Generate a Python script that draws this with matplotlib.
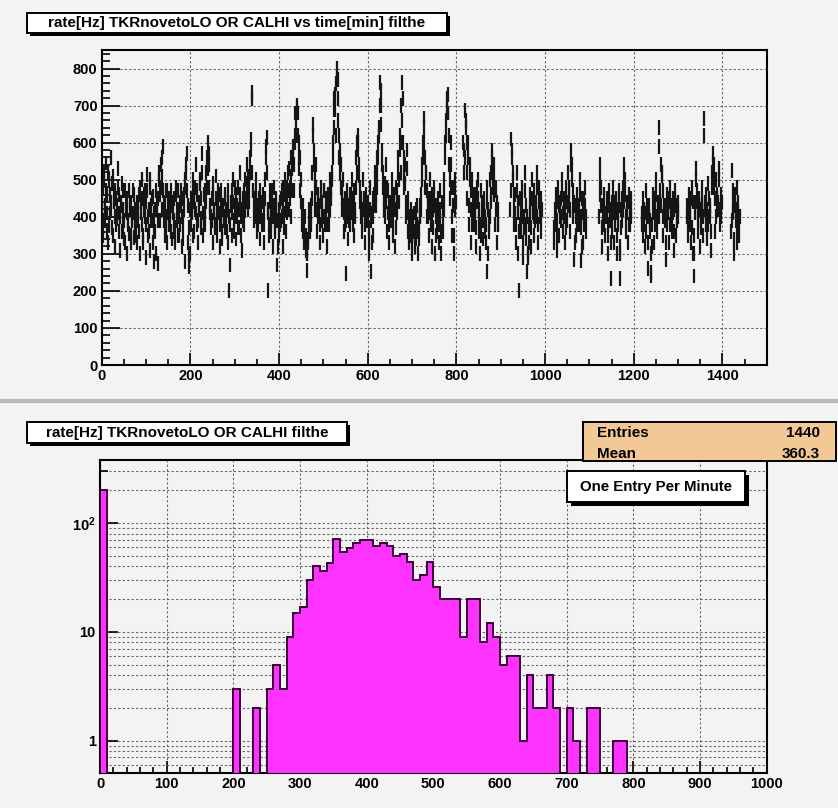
import numpy as np
import matplotlib
matplotlib.use('Agg')
import matplotlib.pyplot as plt
from matplotlib.patches import Rectangle
from matplotlib.lines import Line2D
from matplotlib.ticker import MultipleLocator, FixedLocator, FixedFormatter, NullFormatter

plt.rcParams['font.family'] = ['Liberation Sans', 'DejaVu Sans']
plt.rcParams['font.weight'] = 'bold'
plt.rcParams['mathtext.fontset'] = 'custom'
plt.rcParams['mathtext.rm'] = 'Liberation Sans:bold'
plt.rcParams['mathtext.default'] = 'rm'

# ---------------- data ----------------
N = None
# rates at even minutes (t = 0, 2, 4, ...), 20 values (40 min) per row
rate_even_rows = [
    [420, 480, 350, 520, 390, 545, 460, 330, 500, 410, 560, 440, 370, 510, 470, 320, 450, 395, 530, 360],
    [460, 310, 430, 490, 380, 340, 470, 420, 300, 450, 390, 355, 440, 330, 400, 470, 345, 380, 420, 360],
    [330, 410, 460, 300, 440, 380, 500, 350, 420, 470, 290, 515, 400, 360, 480, 310, 430, 390, 455, 280],
    [360, 470, 420, 275, 450, 520, 390, 480, 560, 590, 430, 350, 470, 400, 330, 450, 380, 420, 470, 340],
    [410, 360, 450, 330, 480, 390, 420, 350, 440, 470, 320, 400, 380, 460, 280, 520, 570, 430, 265, 370],
    [300, 450, 410, 500, 360, 420, 540, 380, 470, 330, 440, 490, 395, 570, 350, 460, 420, 380, 520, 480],
    [600, 540, 410, 370, 450, 330, 490, 420, 380, 510, 350, 440, 460, 320, 400, 470, 340, 430, 390, 450],
    [380, 420, 470, 330, 200, 270, 440, 350, 500, 390, 430, 460, 340, 410, 480, 370, 520, 400, 310, 450],
    [430, 380, 500, 450, 540, 420, 480, 560, 610, 735, 520, 470, 390, 440, 500, 360, 430, 410, 470, 340],
    [420, 380, 460, 330, 450, 560, 615, 200, 410, 350, 470, 390, 440, 320, 480, 360, 400, 430, 270, 390],
    [350, 440, 390, 470, 320, 480, 410, 500, 360, 450, 520, 420, 480, 560, 400, 530, 590, 470, 620, 650],
    [700, 680, 560, 600, 470, 500, 380, 430, 330, 400, 310, 256, 300, 340, 420, 360, 380, 450, 650, 580],
    [500, 420, 540, 360, 460, 410, 330, 480, 390, 440, 350, 470, 400, 430, 320, 460, 380, 500, 420, 470],
    [520, 600, 690, 730, 620, 800, 770, 660, 560, 580, 480, 420, 500, 360, 450, 247, 390, 470, 340, 430],
    [380, 460, 500, 410, 350, 470, 420, 560, 600, 620, 540, 480, 400, 450, 360, 500, 420, 330, 460, 390],
    [440, 300, 370, 480, 252, 410, 350, 460, 520, 430, 560, 480, 600, 640, 763, 700, 580, 520, 450, 490],
    [400, 540, 360, 470, 330, 440, 390, 500, 350, 420, 460, 320, 480, 410, 560, 440, 620, 520, 700, 763],
    [600, 480, 540, 400, 580, 360, 450, 330, 390, 420, 300, 360, 410, 320, 380, 340, 430, 300, 370, 400],
    [420, 500, 560, 665, 600, 480, 520, 400, 450, 350, 500, 380, 460, 320, 420, 480, 300, 400, 360, 450],
    [330, 470, 390, 300, 440, 360, 500, 560, 620, 700, 730, 680, 540, 450, 600, 350, 480, 300, 420, 500],
    [N] * 8 + [600, 520, 686, 640, 450, 600, 380, 540, 470, 330, 500, 420],
    [380, 460, 320, 440, 500, 360, 420, 300, 470, 390, 340, 450, 400, 330, 480, 252, 420, 360, 500, 440],
    [580, 520, 460, 540, 380, 480, 330, 420] + [N] * 12,
    [N, 420, 610, 560, 500, 380, 460, 330, 520, 410, 300, 200, 450, 360, 480, 290, 400, 520, 340, 430],
    [252, 290, 380, 460, 320, 500, 410, 350, 470, 390, 440, 520, 330, 480, 400, 360, 450, N, N, N],
    [N] * 10 + [330, 420, 460, 310, 390, 480, 350, 440, 400, 500],
    [360, 450, 410, 330, 480, 390, 520, 440, 360, 580, 540, 470, 400, 285, 430, 350, 460, 380, 420, 500],
    [370, 283, 450, 330, 420, 480, 360] + [N] * 13,
    [N, 400, 540, 480, 320, 430, 380, 460, 350, 410, 420, 300, 470, 390, 233, 440, 360, 480, 330, 410],
    [450, 300, 380, 470, 233, 320, 420, 390, 480, 540, 500, 360, 440, 410, 330, 460, 380, 420, N, N],
    [N] * 9 + [410, 350, 450, 380, 320, 470, 400, 260, 430, 360, 240],
    [250, 380, 460, 330, 420, 500, 360, 440, 640, 400, 470, 540, 510, 350, 430, 390, 285, 460, 380, 420],
    [330, 480, 400, 360, 450, 310, 420, 470, 350, 400, 440] + [N] * 9,
    [400, 350, 460, 380, 420, 330, 480, 300, 240, 440, 530, 470, 360, 410, 450, 320, 390, 480, 350, 665],
    [420, 380, 460, 340, 490, 400, 430, 310, 520, 570, 540, 480, 360, 500, 450, 420, 530, 380, 460, 400],
    [N] * 10 + [360, 525, 430, 300, 460, 390, 330, 480, 410, 350],
]
# rates at odd minutes (t = 1, 3, 5, ...), 20 values per row
rate_odd_rows = [
    [450, 390, 500, 430, 470, 360, 410, 520, 380, 460, 420, 490, 350, 440, 400, 470, 380, 430, 480, 410],
    [400, 440, 360, 420, 470, 390, 330, 450, 410, 380, 470, 420, 350, 440, 390, 410, 460, 350, 400, 440],
    [390, 440, 360, 480, 410, 450, 330, 460, 400, 380, 440, 470, 350, 420, 500, 390, 450, 330, 410, 370],
    [420, 300, 440, 390, 500, 460, 540, 420, 510, 470, 390, 440, 360, 470, 410, 380, 450, 400, 360, 430],
    [440, 390, 370, 460, 420, 350, 470, 400, 380, 430, 450, 340, 420, 480, 500, 540, 470, 330, 300, 420],
    [380, 430, 470, 350, 440, 480, 410, 460, 390, 420, 500, 370, 450, 520, 410, 380, 470, 440, 560, 530],
    [570, 480, 430, 400, 390, 460, 410, 370, 450, 420, 390, 470, 410, 380, 440, 360, 420, 400, 460, 370],
    [420, 360, 440, 400, 380, 430, 470, 410, 440, 360, 480, 400, 430, 370, 420, 460, 440, 350, 420, 390],
    [470, 420, 440, 490, 460, 510, 440, 520, 580, 720, 470, 430, 450, 400, 460, 420, 380, 450, 400, 440],
    [390, 440, 410, 380, 500, 590, 520, 420, 380, 440, 410, 360, 470, 400, 430, 370, 450, 390, 320, 420],
    [410, 380, 450, 400, 440, 370, 460, 420, 480, 410, 470, 530, 450, 510, 470, 560, 540, 600, 680, 620],
    [690, 620, 530, 560, 440, 420, 400, 360, 370, 330, 350, 300, 330, 380, 390, 400, 430, 520, 620, 540],
    [460, 480, 420, 450, 400, 430, 380, 440, 420, 400, 470, 380, 450, 410, 380, 430, 420, 460, 450, 500],
    [560, 640, 720, 690, 760, 780, 720, 620, 520, 540, 450, 470, 430, 410, 380, 420, 440, 400, 390, 460],
    [420, 410, 450, 380, 430, 400, 480, 520, 580, 600, 510, 440, 430, 400, 420, 450, 380, 380, 420, 430],
    [410, 340, 420, 390, 330, 450, 400, 430, 480, 460, 520, 560, 620, 700, 740, 650, 540, 480, 420, 450],
    [440, 480, 410, 430, 380, 400, 420, 460, 390, 450, 420, 370, 440, 470, 520, 500, 580, 600, 660, 720],
    [560, 520, 490, 440, 530, 410, 400, 370, 350, 380, 340, 400, 360, 350, 420, 380, 360, 340, 400, 430],
    [460, 540, 600, 640, 560, 520, 470, 440, 400, 410, 450, 420, 400, 370, 460, 430, 350, 430, 400, 410],
    [380, 420, 350, 360, 400, 420, 460, 600, 660, 720, 680, 620, 500, 480, 540, 400, 430, 350, 460, 440],
    [N] * 8 + [580, 560, 660, 600, 520, 560, 430, 500, 420, 380, 460, 400],
    [420, 410, 370, 480, 450, 400, 380, 350, 430, 440, 390, 420, 360, 380, 440, 300, 380, 400, 460, 520],
    [560, 480, 500, 470, 420, 440, 380, 380] + [N] * 12,
    [N, 470, 580, 520, 460, 420, 410, 380, 470, 440, 360, 380, 410, 400, 440, 330, 370, 470, 380, 400],
    [300, 330, 420, 410, 370, 450, 440, 400, 430, 420, 400, 480, 380, 440, 430, 400, 420, N, N, N],
    [N] * 10 + [370, 380, 420, 350, 440, 430, 400, 390, 450, 460],
    [410, 400, 450, 370, 440, 430, 470, 480, 420, 540, 500, 430, 440, 330, 400, 390, 420, 430, 380, 460],
    [400, 320, 410, 380, 450, 430, 400] + [N] * 13,
    [N, 460, 500, 430, 370, 390, 420, 410, 400, 450, 380, 350, 430, 420, 330, 400, 410, 440, 380, 450],
    [410, 350, 420, 430, 300, 370, 450, 420, 440, 500, 460, 400, 410, 440, 380, 420, 400, 450, N, N],
    [N] * 9 + [380, 400, 420, 410, 360, 430, 420, 330, 400, 390, 300],
    [320, 420, 410, 380, 450, 460, 400, 410, 590, 440, 430, 520, 470, 400, 410, 430, 330, 420, 410, 450],
    [380, 440, 430, 400, 410, 360, 450, 430, 390, 420, 400] + [N] * 9,
    [430, 390, 420, 410, 450, 370, 440, 350, 300, 410, 500, 440, 400, 430, 420, 370, 430, 440, 400, 620],
    [440, 410, 420, 380, 450, 420, 400, 360, 480, 540, 500, 450, 400, 460, 420, 440, 500, 420, 430, 440],
    [N] * 10 + [390, 470, 410, 340, 430, 420, 370, 440, 390, 400],
]
rate_err_hz = 20

hist_bin_width = 10
hist_counts = (
    [200] + [0] * 19 +                                   # 0 - 200
    [3, 0, 0, 2, 0, 3, 5, 3, 9, 15] +                    # 200 - 300
    [17, 30, 40, 36, 43, 72, 54, 59, 66, 70] +           # 300 - 400
    [70, 61, 66, 61, 50, 52, 44, 30, 33, 44] +           # 400 - 500
    [26, 20, 20, 20, 9, 20, 20, 8, 12, 9] +              # 500 - 600
    [5, 6, 6, 1, 4, 2, 2, 4, 2, 0] +                     # 600 - 700
    [2, 1, 0, 2, 2, 0, 0, 1, 1, 0] +                     # 700 - 800
    [0] * 20                                             # 800 - 1000
)
stats_entries = "1440"
stats_mean = "360.3"

title_top = "rate[Hz] TKRnovetoLO OR CALHI vs time[min] filthe"
title_bottom = "rate[Hz] TKRnovetoLO OR CALHI filthe"
legend_text = "One Entry Per Minute"

# ---------------- figure ----------------
W, H = 838, 808
BG = '#f3f3f3'
fig = plt.figure(figsize=(W / 100, H / 100), dpi=100, facecolor=BG)


def fx(x):
    return x / W


def fy(y):
    return 1 - y / H


def pave(x0, y0, x1, y1, fc, shadow=3, lw=1.4, z=5):
    if shadow:
        fig.add_artist(Rectangle((fx(x0 + shadow), fy(y1 + shadow)), (x1 - x0) / W, (y1 - y0) / H,
                                 transform=fig.transFigure, fc='black', ec='none', zorder=z))
    fig.add_artist(Rectangle((fx(x0), fy(y1)), (x1 - x0) / W, (y1 - y0) / H,
                             transform=fig.transFigure, fc=fc, ec='black', lw=lw, zorder=z + 0.1))


# separator between pads
fig.add_artist(Line2D([0, 1], [fy(401), fy(401)], transform=fig.transFigure, color='#b8b8b8', lw=3, zorder=1))

# ---- top panel ----
rate_even = np.array([np.nan if v is None else v for row in rate_even_rows for v in row], dtype=float)
rate_odd = np.array([np.nan if v is None else v for row in rate_odd_rows for v in row], dtype=float)
t_even = np.arange(len(rate_even)) * 2
t_odd = np.arange(len(rate_odd)) * 2 + 1

ax1 = fig.add_axes([fx(101.7), fy(365), (766.7 - 101.7) / W, (365 - 50) / H])
ax1.set_facecolor(BG)
ax1.set_xlim(0, 1500)
ax1.set_ylim(0, 850)
for tt, rr in ((t_even, rate_even), (t_odd, rate_odd)):
    ax1.errorbar(tt, rr, yerr=rate_err_hz, xerr=1.0, fmt='none', ecolor='#151515',
                 elinewidth=1.6, capsize=0, zorder=3)
ax1.xaxis.set_major_locator(MultipleLocator(200))
ax1.xaxis.set_minor_locator(MultipleLocator(50))
ax1.yaxis.set_major_locator(MultipleLocator(100))
ax1.yaxis.set_minor_locator(MultipleLocator(20))
ax1.set_axisbelow(True)
ax1.grid(True, which='major', color='#666666', lw=0.8, linestyle=(0, (2, 2)))

# ---- bottom panel ----
edges = np.arange(0, 1000 + hist_bin_width, hist_bin_width)
counts = np.array(hist_counts, dtype=float)
draw_counts = np.where(counts > 0, counts, 1e-3)

ax2 = fig.add_axes([fx(100), fy(773.3), (766.7 - 100) / W, (773.3 - 460) / H])
ax2.set_facecolor(BG)
ax2.set_yscale('log')
ax2.set_xlim(0, 1000)
ax2.set_ylim(0.5, 380)
ax2.stairs(draw_counts, edges, baseline=1e-3, fill=True, color='#ff33ff', zorder=3)
ax2.stairs(draw_counts, edges, baseline=1e-3, fill=False, color='#3a003a', lw=1.4, zorder=4)
ax2.xaxis.set_major_locator(MultipleLocator(100))
ax2.xaxis.set_minor_locator(MultipleLocator(20))
ax2.yaxis.set_major_locator(FixedLocator([1, 10, 100]))
ax2.yaxis.set_major_formatter(FixedFormatter(['1', '10', r'$10^{2}$']))
minor_y = [0.6, 0.7, 0.8, 0.9] + [k for k in range(2, 10)] + [10 * k for k in range(2, 10)] + [200, 300]
ax2.yaxis.set_minor_locator(FixedLocator(minor_y))
ax2.yaxis.set_minor_formatter(NullFormatter())
ax2.set_axisbelow(True)
ax2.grid(True, which='major', axis='x', color='#666666', lw=0.8, linestyle=(0, (2, 2)))
ax2.grid(True, which='both', axis='y', color='#666666', lw=0.8, linestyle=(0, (2, 2)))

for ax in (ax1, ax2):
    for s in ax.spines.values():
        s.set_linewidth(1.5)
        s.set_color('black')
    ax.tick_params(which='both', direction='in', colors='black', labelsize=10.5, width=1.2)
    ax.tick_params(axis='y', which='major', length=13, pad=3)
    ax.tick_params(axis='y', which='minor', length=6)
    ax.tick_params(axis='x', which='major', length=9, pad=3)
    ax.tick_params(axis='x', which='minor', length=4)
    for lab in ax.get_xticklabels() + ax.get_yticklabels():
        lab.set_fontweight('bold')

# ---- title paves ----
pave(27, 13, 447, 33, 'white')
fig.text(fx(237), fy(23), title_top, ha='center', va='center', fontsize=11, fontweight='bold', zorder=7)
pave(27, 422, 347, 443, 'white')
fig.text(fx(187), fy(432.5), title_bottom, ha='center', va='center', fontsize=11, fontweight='bold', zorder=7)

# ---- stats box ----
pave(583, 422, 836, 461, '#f2c994', shadow=0, lw=1.4)
fig.text(fx(597), fy(433), 'Entries', ha='left', va='center', fontsize=11, fontweight='bold', zorder=7)
fig.text(fx(820), fy(433), stats_entries, ha='right', va='center', fontsize=11, fontweight='bold', zorder=7)
fig.text(fx(597), fy(454), 'Mean', ha='left', va='center', fontsize=11, fontweight='bold', zorder=7)
fig.text(fx(820), fy(454), stats_mean, ha='right', va='center', fontsize=11, fontweight='bold', zorder=7)

# ---- legend pave ----
pave(567, 471, 745, 502, 'white', shadow=4)
fig.text(fx(656), fy(486.5), legend_text, ha='center', va='center', fontsize=10.8, fontweight='bold', zorder=7)

fig.savefig('out.png', dpi=100, facecolor=BG)
